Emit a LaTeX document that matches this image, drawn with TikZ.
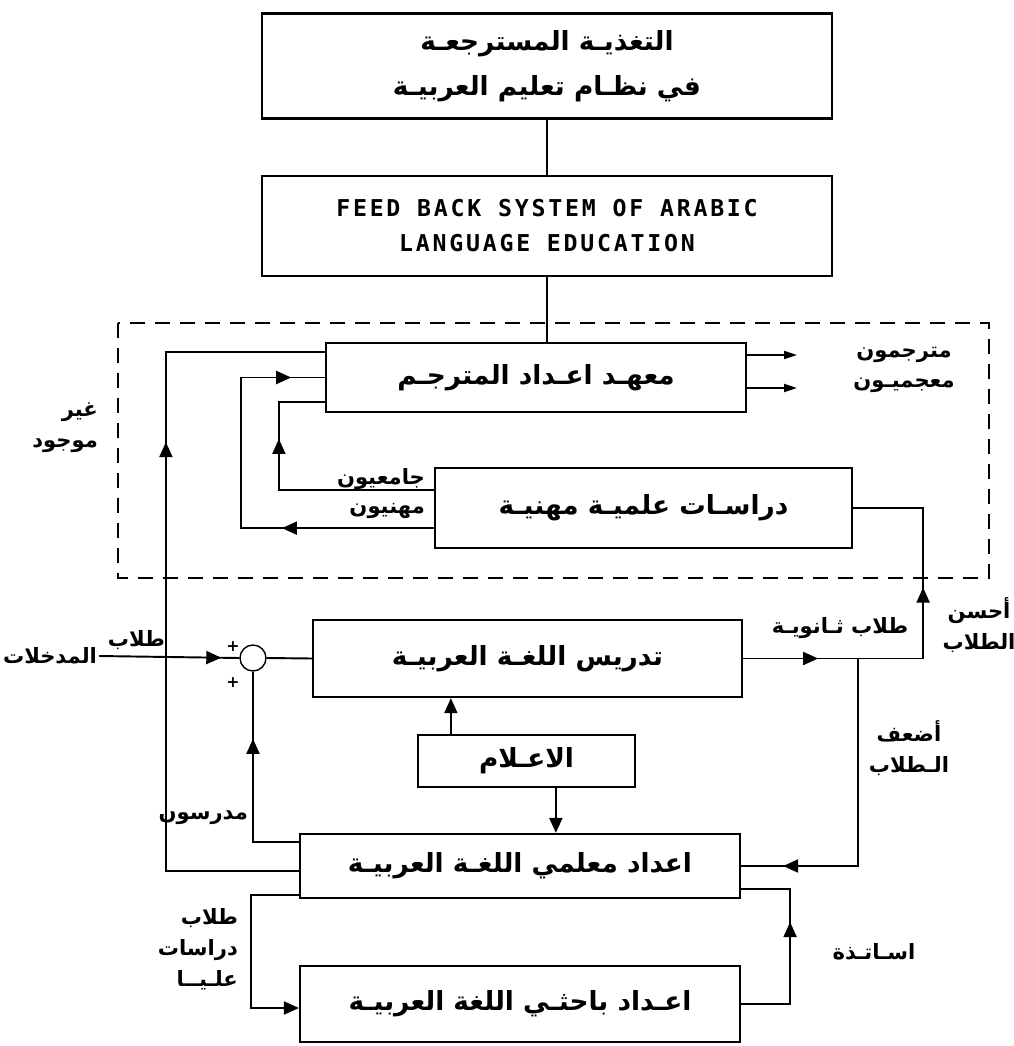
\documentclass[tikz,border=0pt]{standalone}
\usepackage{fontspec}
\usetikzlibrary{arrows.meta,decorations.markings,calc}
\TeXXeTstate=1
\newfontfamily\arabicfont[Script=Arabic]{DejaVu Sans}
\newfontfamily\engfont[LetterSpace=12]{DejaVu Sans Mono}
\newcommand{\artxt}[1]{\beginR #1\endR}

\tikzset{
  box/.style={draw, line width=1.3pt, inner sep=0pt, align=center,
    font=\arabicfont\bfseries\fontsize{15}{25.6}\selectfont},
  lbl/.style={inner sep=1pt, align=center,
    font=\arabicfont\bfseries\fontsize{12}{17.5}\selectfont},
  sumc/.style={circle, draw, line width=0.8pt, minimum size=0.52cm, inner sep=0pt},
  flow/.style={line width=1.1pt},
  tip/.style={-{Triangle[length=3mm,width=2.6mm]}},
  midarrow/.style={postaction={decorate,decoration={markings,
    mark=at position #1 with {\arrow{Triangle[length=3mm,width=2.6mm]}}}}},
}

\begin{document}
\begin{tikzpicture}[x=0.02cm, y=-0.02cm]
  \useasboundingbox (0,0) rectangle (1014,1046);
  % boxes
  \node[box, minimum width=11.4cm, minimum height=2.1cm] (title) at (547,66)
    {\artxt{التغذيـة المسترجعـة}\\\artxt{في نظـام تعليم العربيـة}};
  \node[box, minimum width=11.4cm, minimum height=2cm,
    font=\engfont\bfseries\fontsize{13.2}{19.9}\selectfont] (feedback) at (547,226)
    {FEED BACK SYSTEM OF ARABIC\\LANGUAGE EDUCATION};
  \node[box, minimum width=8.4cm, minimum height=1.38cm] (trans) at (536,377.5)
    {\artxt{معهـد اعـداد المترجـم}};
  \node[box, minimum width=8.34cm, minimum height=1.6cm] (dirasat) at (643.5,508)
    {\artxt{دراسـات علميـة مهنيـة}};
  \node[box, minimum width=8.58cm, minimum height=1.54cm] (teach) at (527.5,658.5)
    {\artxt{تدريس اللغـة العربيـة}};
  \node[box, minimum width=4.34cm, minimum height=1.04cm] (media) at (526.5,761)
    {\artxt{الاعـلام}};
  \node[box, minimum width=8.8cm, minimum height=1.28cm] (teacher) at (520,866)
    {\artxt{اعداد معلمي اللغـة العربيـة}};
  \node[box, minimum width=8.8cm, minimum height=1.52cm] (research) at (520,1004)
    {\artxt{اعـداد باحثـي اللغة العربيـة}};
  \node[sumc] (sum) at (253,658) {};

  % dashed zone
  \draw[flow, dash pattern=on 0.3cm off 0.2cm] (118,323) rectangle (989,578);
  \node[lbl, align=right, anchor=east] (none) at (100,428) {\artxt{غير}\\\artxt{موجود}};

  % top chain
  \draw[line width=0.9pt] (title.south) -- (feedback.north);
  \draw[line width=0.9pt] (feedback.south) -- (feedback.south |- trans.north);

  % translator outputs
  \coordinate (out1) at (797,355);
  \coordinate (out2) at (797,388);
  \draw[flow, -{Triangle[length=2.6mm,width=1.6mm]}] (trans.east |- out1) -- (out1);
  \draw[flow, -{Triangle[length=2.6mm,width=1.6mm]}] (trans.east |- out2) -- (out2);
  \node[lbl] (outlab) at (904,370) {\artxt{مترجمون}\\\artxt{معجميـون}};

  % loops between translator and studies
  \draw[flow, midarrow=4.12cm] ($(dirasat.north west)+(0,23)$)
    -| ($(trans.south west)+(-46,-11)$) -- ($(trans.south west)+(0,-11)$);
  \draw[flow, midarrow=3.04cm, midarrow=7.88cm] ($(dirasat.south west)+(0,-21)$)
    -| ($(trans.west)+(-84,0)$) -- (trans.west);
  \node[lbl, anchor=east] (univ) at (427,479) {\artxt{جامعيون}};
  \node[lbl, anchor=east] (prof) at (427,511) {\artxt{مهنيون}};

  % outer loop
  \draw[flow, midarrow=11.24cm] ($(teacher.west)+(0,5)$)
    -| ($(trans.north west)+(-159,10)$) -- ($(trans.north west)+(0,10)$);

  % input and summing point
  \node[lbl] (inlab) at (50,656) {\artxt{المدخلات}};
  \node[lbl, anchor=south east] (stud) at (167,652) {\artxt{طلاب}};
  \draw[flow, midarrow=-0.36cm] (inlab.east) -- (sum.west);
  \node[font=\arabicfont\bfseries\small] (plus1) at (233,647) {+};
  \node[font=\arabicfont\bfseries\small] (plus2) at (233,683) {+};
  \draw[flow] (sum.east) -- (teach.west);
  \draw[flow, midarrow=2.98cm] ($(teacher.north west)+(0,9)$) -| (sum.south);
  \node[lbl, anchor=east] (teachers) at (250,817) {\artxt{مدرسون}};

  % media
  \draw[flow, tip] ($(media.north west)+(34,0)$) coordinate (m1) -- (m1 |- teach.south);
  \draw[flow, tip] ($(media.south west)+(139,0)$) coordinate (m2) -- (m2 |- teacher.north);

  % right side
  \coordinate (split) at ($(teach.east)+(115,0)$);
  \draw[flow, midarrow=1.5cm, midarrow=5.02cm] (teach.east)
    -| ($(dirasat.east)+(70,0)$) -- (dirasat.east);
  \node[lbl] (sec) at (840,628) {\artxt{طلاب ثـانويـة}};
  \node[lbl] (best) at (979,625) {\artxt{أحسن}\\\artxt{الطلاب}};
  \draw[flow, midarrow=5.65cm] (split) |- (teacher.east);
  \node[lbl] (weak) at (909,748) {\artxt{أضعف}\\\artxt{الـطلاب}};

  % researchers
  \draw[flow, tip] ($(teacher.south west)+(0,-4)$)
    -| ($(research.west)+(-48,4)$) -- ($(research.west)+(0,4)$);
  \node[lbl, align=right, anchor=east] (grad) at (240,949)
    {\artxt{طلاب}\\\artxt{دراسات}\\\artxt{علـيــا}};
  \draw[flow, midarrow=2.62cm] (research.east)
    -| ($(teacher.south east)+(49,-10)$) -- ($(teacher.south east)+(0,-10)$);
  \node[lbl] (staff) at (874,952) {\artxt{اسـاتـذة}};
\end{tikzpicture}
\end{document}
